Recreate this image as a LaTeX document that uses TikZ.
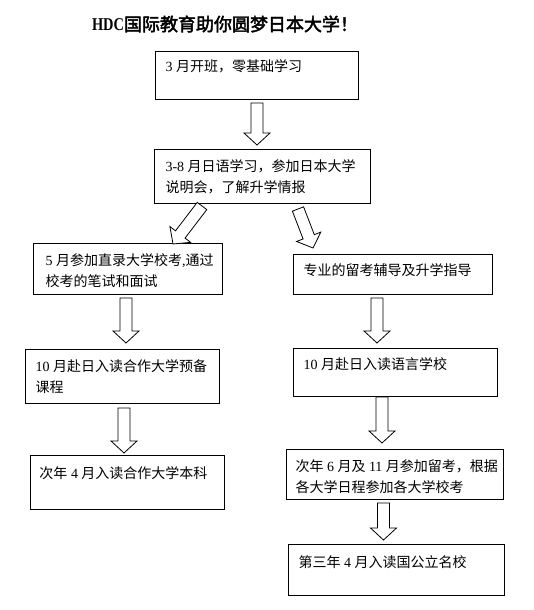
\documentclass[tikz,border=0pt]{standalone}
\usepackage{fontspec}
\usepackage{graphicx}
\setmainfont{Noto Sans CJK SC}
\newfontfamily\lat{Liberation Serif}
\newfontfamily\titlecjk[FakeBold=2.5]{Noto Sans CJK SC}
\usetikzlibrary{calc}
\newcommand\bxt[5]{\parbox[c][#2][t]{#1}{\raggedright\leftskip=#3\relax\rule{0pt}{#4}#5}}
\newcommand\harrow[2]{%
  \coordinate (hb) at ($(#2)!12pt!(#1)$);
  \draw[arr] ($(#1)!6pt!90:(#2)$) -- ($(hb)!6pt!90:(#2)$) -- ($(hb)!13pt!90:(#2)$) -- (#2)
    -- ($(hb)!13pt!-90:(#2)$) -- ($(hb)!6pt!-90:(#2)$) -- ($(#1)!6pt!-90:(#2)$) -- cycle;}
\tikzset{
  box/.style={draw, line width=1pt, inner sep=0pt, anchor=north west,
    font=\fontsize{14}{20.5}\selectfont},
  arr/.style={draw, line width=0.8pt, fill=white, line join=miter}
}
\begin{document}
\begin{tikzpicture}[x=1pt,y=-1pt]
\useasboundingbox (0,0) rectangle (533,610);
\node[inner sep=0pt] (title) at (225,24) {\titlecjk\fontsize{18}{20}\selectfont{\lat\bfseries\scalebox{0.8}[1]{HDC}}国际教育助你圆梦日本大学！};

\node[box] (b1) at (155,51) {\bxt{203pt}{48pt}{10pt}{20pt}{{\lat 3 }月开班，零基础学习}};
\node[box] (b2) at (154,149) {\bxt{216pt}{54pt}{11pt}{22pt}{{\lat 3-8 }月日语学习，参加日本大学\\说明会，了解升学情报}};
\node[box] (b3l) at (33,243) {\bxt{189pt}{51pt}{12pt}{22pt}{{\lat 5 }月参加直录大学校考{\lat ,}通过\\校考的笔试和面试}};
\node[box] (b3r) at (293,254) {\bxt{199pt}{40pt}{10pt}{21pt}{专业的留考辅导及升学指导}};
\node[box] (b4l) at (25,349) {\bxt{194pt}{54pt}{10pt}{22pt}{{\lat 10 }月赴日入读合作大学预备\\课程}};
\node[box] (b4r) at (293,348) {\bxt{204pt}{48pt}{10pt}{21pt}{{\lat 10 }月赴日入读语言学校}};
\node[box] (b5l) at (30,455) {\bxt{194pt}{54pt}{9pt}{23pt}{次年{\lat{} 4 }月入读合作大学本科}};
\node[box] (b5r) at (286,449) {\bxt{217pt}{50pt}{9pt}{22pt}{次年{\lat{} 6 }月及{\lat{} 11 }月参加留考，根据\\各大学日程参加各大学校考}};
\node[box] (b6r) at (288,544) {\bxt{216pt}{51pt}{10pt}{23pt}{第三年{\lat{} 4 }月入读国公立名校}};

\coordinate (a1s) at (257,103);   \coordinate (a1e) at (257,145);
\coordinate (a2s) at (202,206);   \coordinate (a2e) at (173,244);
\coordinate (a3s) at (298,209);   \coordinate (a3e) at (313,248);
\coordinate (a4s) at (126,298);   \coordinate (a4e) at (126,343);
\coordinate (a5s) at (377,298);   \coordinate (a5e) at (377,343);
\coordinate (a6s) at (124,408);   \coordinate (a6e) at (124,453);
\coordinate (a7s) at (382,397);   \coordinate (a7e) at (382,443);
\coordinate (a8s) at (383.5,503); \coordinate (a8e) at (383.5,540);

\harrow{a1s}{a1e}
\harrow{a2s}{a2e}
\harrow{a3s}{a3e}
\harrow{a4s}{a4e}
\harrow{a5s}{a5e}
\harrow{a6s}{a6e}
\harrow{a7s}{a7e}
\harrow{a8s}{a8e}
\end{tikzpicture}
\end{document}
